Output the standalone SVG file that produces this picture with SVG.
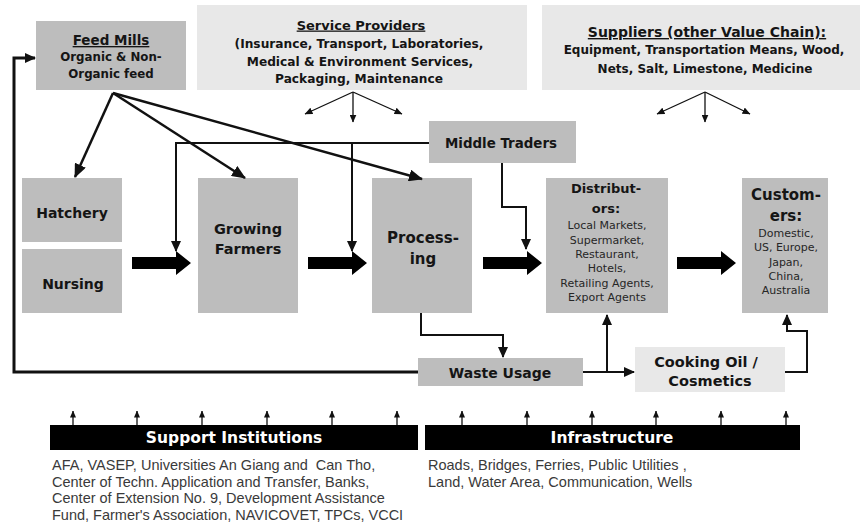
<svg xmlns="http://www.w3.org/2000/svg" width="863" height="527" viewBox="0 0 863 527">
<defs>
<marker id="big" markerUnits="userSpaceOnUse" markerWidth="14" markerHeight="12" refX="13" refY="6" orient="auto"><path d="M0,0 L14,6 L0,12 z" fill="#111"/></marker>
<marker id="mid" markerUnits="userSpaceOnUse" markerWidth="11" markerHeight="10" refX="10" refY="5" orient="auto"><path d="M0,0 L11,5 L0,10 z" fill="#111"/></marker>
<marker id="sm" markerUnits="userSpaceOnUse" markerWidth="8" markerHeight="7" refX="7.5" refY="3.5" orient="auto"><path d="M0,0 L8,3.5 L0,7 z" fill="#111"/></marker>
<marker id="tiny" markerUnits="userSpaceOnUse" markerWidth="7" markerHeight="6" refX="6.5" refY="3" orient="auto"><path d="M0,0 L7,3 L0,6 z" fill="#111"/></marker>
</defs>
<style>
.box{fill:#bdbdbd}
.lbox{fill:#e8e8e8}
.t{font-family:"DejaVu Sans",Verdana,sans-serif;font-weight:bold;fill:#151515;text-anchor:middle}
.s{font-family:"DejaVu Sans",Verdana,sans-serif;fill:#262626;text-anchor:middle;font-size:11px}
.u{text-decoration:underline}
.ln{fill:none;stroke:#111;stroke-width:2.5}
.l2{fill:none;stroke:#111;stroke-width:2}
.l1{fill:none;stroke:#111;stroke-width:1.3}
.fat{fill:#000}
.bar{fill:#000}
.bt{font-family:"DejaVu Sans",Verdana,sans-serif;font-weight:bold;fill:#fff;text-anchor:middle;font-size:15.5px}
.low{font-family:"Liberation Sans",Arial,sans-serif;fill:#3a3a3a;font-size:14.5px;white-space:pre}
</style>

<g id="feed-mills">
<rect class="box" x="36" y="21" width="150" height="69"/>
<text class="t u" x="111" y="45" font-size="13.5">Feed Mills</text>
<text class="t" x="111" y="61" font-size="11.8">Organic &amp; Non-</text>
<text class="t" x="111" y="78" font-size="11.8">Organic feed</text>
</g>

<g id="service-providers">
<rect class="lbox" x="197" y="5" width="330" height="85"/>
<text class="t u" x="361" y="29.5" font-size="13">Service Providers</text>
<text class="t" x="359" y="48" font-size="12.2">(Insurance, Transport, Laboratories,</text>
<text class="t" x="360" y="65.5" font-size="12.2">Medical &amp; Environment Services,</text>
<text class="t" x="359" y="82.5" font-size="12.2">Packaging, Maintenance</text>
</g>

<g id="suppliers">
<rect class="lbox" x="542" y="5" width="318" height="85"/>
<text class="t u" x="707" y="37" font-size="14">Suppliers (other Value Chain):</text>
<text class="t" x="704" y="54" font-size="12">Equipment, Transportation Means, Wood,</text>
<text class="t" x="705" y="73" font-size="12">Nets, Salt, Limestone, Medicine</text>
</g>

<g id="middle-traders">
<rect class="box" x="429" y="121" width="147" height="42"/>
<text class="t" x="501" y="148" font-size="13.4">Middle Traders</text>
</g>

<g id="hatchery">
<rect class="box" x="22" y="178" width="100" height="64"/>
<text class="t" x="72" y="218" font-size="14">Hatchery</text>
</g>

<g id="nursing">
<rect class="box" x="22" y="249" width="100" height="64"/>
<text class="t" x="73" y="289" font-size="14">Nursing</text>
</g>

<g id="growing-farmers">
<rect class="box" x="198" y="178" width="100" height="135"/>
<text class="t" x="248" y="234" font-size="14.5">Growing</text>
<text class="t" x="248" y="254" font-size="14.5">Farmers</text>
</g>

<g id="processing">
<rect class="box" x="372" y="178" width="100" height="135"/>
<text class="t" x="423" y="243" font-size="15">Process-</text>
<text class="t" x="423" y="264" font-size="15">ing</text>
</g>

<g id="distributors">
<rect class="box" x="546" y="178" width="122" height="135"/>
<text class="t" x="606" y="193" font-size="13">Distribut-</text>
<text class="t" x="606" y="213" font-size="13">ors:</text>
<text class="s" x="607" y="229">Local Markets,</text>
<text class="s" x="607" y="244">Supermarket,</text>
<text class="s" x="607" y="258">Restaurant,</text>
<text class="s" x="607" y="272">Hotels,</text>
<text class="s" x="607" y="287">Retailing Agents,</text>
<text class="s" x="607" y="301">Export Agents</text>
</g>

<g id="customers">
<rect class="box" x="742" y="178" width="86" height="135"/>
<text class="t" x="786" y="200" font-size="15">Custom-</text>
<text class="t" x="786" y="221" font-size="15">ers:</text>
<text class="s" x="786" y="237">Domestic,</text>
<text class="s" x="786" y="251">US, Europe,</text>
<text class="s" x="786" y="266">Japan,</text>
<text class="s" x="786" y="280">China,</text>
<text class="s" x="786" y="294">Australia</text>
</g>

<g id="waste-usage">
<rect class="box" x="418" y="358" width="165" height="28"/>
<text class="t" x="500" y="378" font-size="14">Waste Usage</text>
</g>

<g id="cooking-oil">
<rect class="lbox" x="635" y="347" width="150" height="45"/>
<text class="t" x="706" y="367" font-size="14.5">Cooking Oil /</text>
<text class="t" x="710" y="386" font-size="14.5">Cosmetics</text>
</g>

<g id="support-institutions">
<rect class="bar" x="50" y="425" width="368" height="25"/>
<text class="bt" x="234" y="443">Support Institutions</text>
<text class="low" x="52" y="470">AFA, VASEP, Universities An Giang and  Can Tho,</text>
<text class="low" x="52" y="486.5">Center of Techn. Application and Transfer, Banks,</text>
<text class="low" x="52" y="503">Center of Extension No. 9, Development Assistance</text>
<text class="low" x="52" y="520">Fund, Farmer's Association, NAVICOVET, TPCs, VCCI</text>
</g>

<g id="infrastructure">
<rect class="bar" x="425" y="425" width="375" height="25"/>
<text class="bt" x="612" y="443">Infrastructure</text>
<text class="low" x="428" y="470">Roads, Bridges, Ferries, Public Utilities ,</text>
<text class="low" x="428" y="487">Land, Water Area, Communication, Wells</text>
</g>

<g id="connectors">
<path class="fat" d="M132,257 L176,257 L176,251 L191,263 L176,275 L176,269 L132,269 Z"/>
<path class="fat" d="M308,257 L352,257 L352,251 L367,263 L352,275 L352,269 L308,269 Z"/>
<path class="fat" d="M483,257 L527,257 L527,251 L542,263 L527,275 L527,269 L483,269 Z"/>
<path class="fat" d="M677,257 L721,257 L721,251 L736,263 L721,275 L721,269 L677,269 Z"/>
<line class="ln" x1="113" y1="93" x2="75" y2="177" marker-end="url(#big)"/>
<line class="ln" x1="113" y1="93" x2="245" y2="178" marker-end="url(#big)"/>
<line class="ln" x1="113" y1="93" x2="422" y2="179" marker-end="url(#big)"/>
<line class="l1" x1="353" y1="92" x2="305" y2="114" marker-end="url(#sm)"/>
<line class="l1" x1="353" y1="92" x2="353" y2="122" marker-end="url(#sm)"/>
<line class="l1" x1="353" y1="92" x2="402" y2="114" marker-end="url(#sm)"/>
<line class="l1" x1="705" y1="92" x2="657" y2="114" marker-end="url(#sm)"/>
<line class="l1" x1="705" y1="92" x2="705" y2="122" marker-end="url(#sm)"/>
<line class="l1" x1="705" y1="92" x2="750" y2="114" marker-end="url(#sm)"/>
<polyline class="l2" points="429,143 176,143 176,251" marker-end="url(#mid)"/>
<line class="l2" x1="352" y1="143" x2="352" y2="251" marker-end="url(#mid)"/>
<polyline class="l2" points="502,163 502,207 526,207 526,249" marker-end="url(#mid)"/>
<polyline class="l2" points="421,313 421,335 503,335 503,357" marker-end="url(#mid)"/>
<line class="l2" x1="583" y1="372" x2="634" y2="372" marker-end="url(#mid)"/>
<line class="l2" x1="607" y1="372" x2="607" y2="315" marker-end="url(#mid)"/>
<polyline class="l2" points="785,372 807,372 807,331 787,331 787,315" marker-end="url(#mid)"/>
<polyline fill="none" stroke="#111" stroke-width="3" points="418,372 14,372 14,58 35,58" marker-end="url(#mid)"/>
<g class="l1">
<line x1="73" y1="425" x2="73" y2="411" marker-end="url(#tiny)"/>
<line x1="137" y1="425" x2="137" y2="411" marker-end="url(#tiny)"/>
<line x1="202" y1="425" x2="202" y2="411" marker-end="url(#tiny)"/>
<line x1="267" y1="425" x2="267" y2="411" marker-end="url(#tiny)"/>
<line x1="332" y1="425" x2="332" y2="411" marker-end="url(#tiny)"/>
<line x1="397" y1="425" x2="397" y2="411" marker-end="url(#tiny)"/>
<line x1="462" y1="425" x2="462" y2="411" marker-end="url(#tiny)"/>
<line x1="527" y1="425" x2="527" y2="411" marker-end="url(#tiny)"/>
<line x1="592" y1="425" x2="592" y2="411" marker-end="url(#tiny)"/>
<line x1="656" y1="425" x2="656" y2="411" marker-end="url(#tiny)"/>
<line x1="721" y1="425" x2="721" y2="411" marker-end="url(#tiny)"/>
<line x1="786" y1="425" x2="786" y2="411" marker-end="url(#tiny)"/>
</g>
</g>
</svg>
